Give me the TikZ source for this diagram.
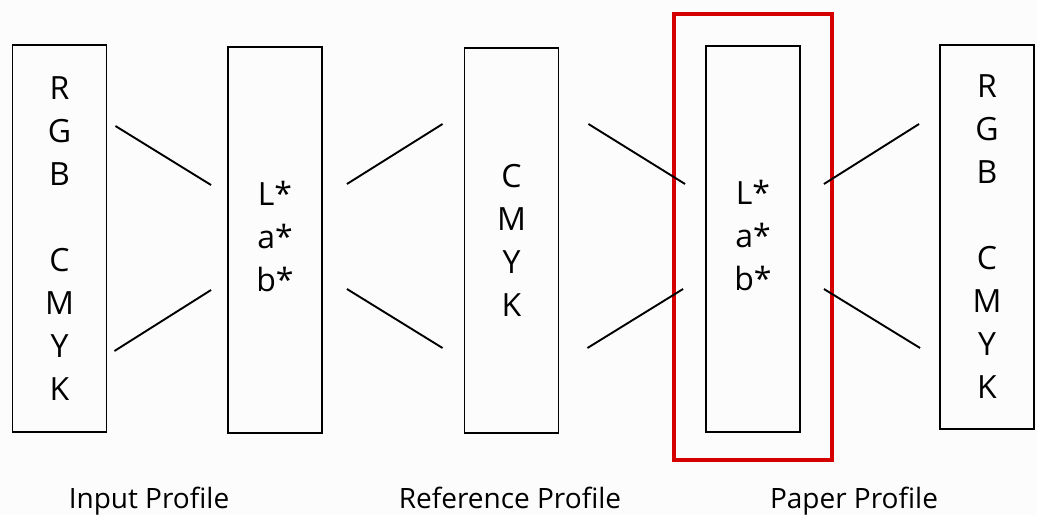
\documentclass[tikz,border=0pt]{standalone}
\usepackage{fontspec}
\setmainfont{Open Sans}
\usepackage{tikz}
\usetikzlibrary{calc}

\definecolor{paperbg}{RGB}{252,252,252}
\definecolor{markred}{RGB}{212,0,0}

\begin{document}
\begin{tikzpicture}[
        x=1pt, y=-1pt,
        profile/.style={
            rectangle, draw=black, line width=1.9pt, fill=none,
            minimum width=94pt, inner sep=0pt, align=center,
            font=\fontsize{32}{43}\selectfont
        },
        link/.style={line width=1.9pt, color=black},
        caption/.style={font=\fontsize{28}{34}\selectfont, anchor=base}
    ]
        % Page
        \fill[paperbg] (0,0) rectangle (1037,515);
        \useasboundingbox (0,0) rectangle (1037,515);

        % Profile boxes
        \node[profile, minimum height=387pt] (inrgb) at (59.5,238.5)
            {R\\G\\B\\[43pt]C\\M\\Y\\K};
        \node[profile, minimum height=386pt] (lab1) at (275,240)
            {L*\\a*\\b*\\[-36pt]};
        \node[profile, minimum height=385pt] (ref) at (511.5,240.5)
            {C\\M\\Y\\K};
        \node[profile, minimum height=386pt] (lab2) at (753,239)
            {L*\\a*\\b*\\[-36pt]};
        \node[profile, minimum height=384pt] (outrgb) at (987,237)
            {R\\G\\B\\[43pt]C\\M\\Y\\K};

        % Highlight
        \node[draw=markred, line width=4pt, minimum width=158pt,
              minimum height=446pt, inner sep=0pt] (paper) at (753,237) {};

        % Connectors
        \draw[link] ($(inrgb.east)+(8,-112.5)$) -- ($(lab1.west)+(-16,-55)$);
        \draw[link] ($(inrgb.east)+(7,112.5)$) -- ($(lab1.west)+(-16,50)$);
        \draw[link] ($(lab1.east)+(24,-56)$) -- ($(ref.west)+(-21,-116.5)$);
        \draw[link] ($(lab1.east)+(24,49)$) -- ($(ref.west)+(-21,107.5)$);
        \draw[link] ($(ref.east)+(29,-116.5)$) -- ($(lab2.west)+(-20,-55)$);
        \draw[link] ($(ref.east)+(28,107.5)$) -- ($(lab2.west)+(-22,50)$);
        \draw[link] ($(lab2.east)+(23,-55)$) -- ($(outrgb.west)+(-20,-113)$);
        \draw[link] ($(lab2.east)+(23,50)$) -- ($(outrgb.west)+(-19,111)$);

        % Captions
        \node[caption] (incap) at (149,508) {Input Profile};
        \node[caption] (refcap) at (510,508) {Reference Profile};
        \node[caption] (papcap) at (854,508) {Paper Profile};

    \end{tikzpicture}
\end{document}
